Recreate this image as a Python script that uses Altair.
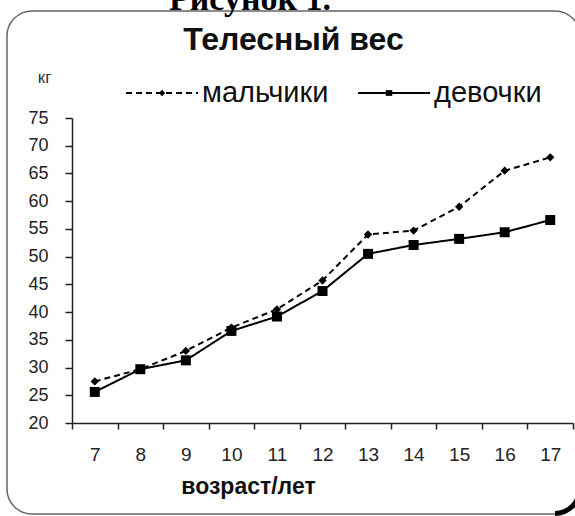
import altair as alt
import pandas as pd

# ---- data ----
ages = [7, 8, 9, 10, 11, 12, 13, 14, 15, 16, 17]
boys = [27.5, 29.7, 33.0, 37.2, 40.5, 45.7, 54.0, 54.7, 59.0, 65.5, 67.9]
girls = [25.6, 29.7, 31.3, 36.6, 39.2, 43.8, 50.5, 52.1, 53.2, 54.4, 56.6]
series = ["мальчики", "девочки"]
y_ticks = [20, 25, 30, 35, 40, 45, 50, 55, 60, 65, 70, 75]
title_text = "Телесный вес"
caption_text = "Рисунок 1."
x_title = "возраст/лет"
y_title = "кг"

rows = []
for a, b, g in zip(ages, boys, girls):
    rows.append({"age": a, "weight": b, "series": series[0]})
    rows.append({"age": a, "weight": g, "series": series[1]})
df = pd.DataFrame(rows)

FONT = "Liberation Sans"

# legend marker symbols (drawn at the centre of a wide legend cell)
boy_sym = "M0,-0.09L0.09,0L0,0.09L-0.09,0Z"
girl_sym = "M-0.09,-0.08H0.09V0.08H-0.09Z"

common_legend = dict(
    title=None, orient="none", legendX=53, legendY=-62, direction="horizontal",
    labelFont=FONT, labelFontSize=29, symbolSize=5184, symbolStrokeWidth=2,
    labelOffset=3,
)
line_legend = alt.Legend(
    labelColor="#111", symbolType="stroke", symbolStrokeColor="black",
    columnPadding=25, **common_legend,
)
marker_legend = alt.Legend(
    labelExpr="''", symbolFillColor="black", symbolStrokeColor="black",
    symbolOpacity=1, columnPadding=150, **common_legend,
)

x_enc = alt.X(
    "age:O",
    scale=alt.Scale(type="band", paddingInner=0, paddingOuter=0),
    axis=alt.Axis(
        title=x_title, tickBand="extent", labelAngle=0, labelFont=FONT,
        labelFontSize=19, labelColor="#222", labelPadding=16, tickSize=6,
        tickColor="#222", domainColor="#222", domainWidth=1.5, tickWidth=1.5,
        titleFont=FONT, titleFontSize=23, titleFontWeight="bold", titleColor="#111",
        titleX=176, titleY=70, titleAlign="center", titleBaseline="alphabetic",
    ),
)
y_enc = alt.Y(
    "weight:Q",
    scale=alt.Scale(domain=[20, 75], nice=False, zero=False),
    axis=alt.Axis(
        values=y_ticks, grid=False, labelFont=FONT, labelFontSize=18,
        labelColor="#222", labelPadding=17, tickSize=7, tickColor="#222",
        domainColor="#222", domainWidth=1.5, tickWidth=1.5,
        title=y_title, titleAngle=0, titleX=-28, titleY=-41, titleAlign="center",
        titleBaseline="middle", titleFont=FONT, titleFontSize=17,
        titleFontWeight="normal", titleColor="#333",
    ),
)

cap_df = pd.DataFrame({"t": [caption_text]})
title_df = pd.DataFrame({"t": [title_text]})

shadow = alt.Chart(cap_df).mark_arc(
    theta=1.5708, theta2=3.1416, innerRadius=22, outerRadius=27, color="black"
).encode(x=alt.value(483), y=alt.value(371))

border = alt.Chart(cap_df).mark_rect(
    fill="transparent", stroke="#666", strokeWidth=1.5, cornerRadius=25
).encode(x=alt.value(-65), x2=alt.value(508), y=alt.value(-107), y2=alt.value(396))

caption = alt.Chart(cap_df).mark_text(
    font="Liberation Serif", fontWeight="bold", fontSize=34, align="center",
    baseline="alphabetic", color="black"
).encode(x=alt.value(178), y=alt.value(-108), text="t:N")

title = alt.Chart(title_df).mark_text(
    font=FONT, fontWeight="bold", fontSize=32, align="center",
    baseline="alphabetic", color="#111"
).encode(x=alt.value(221.5), y=alt.value(-68), text="t:N")

lines = alt.Chart(df).mark_line(color="black", strokeWidth=2).encode(
    x=x_enc, y=y_enc,
    strokeDash=alt.StrokeDash("series:N", scale=alt.Scale(domain=series, range=[[6, 4], [1, 0]]), legend=line_legend),
)

legend_src = alt.Chart(df).mark_point(
    filled=True, color="black", opacity=0
).encode(
    x=x_enc, y=y_enc,
    shape=alt.Shape("series:N", sort=series, scale=alt.Scale(range=[boy_sym, girl_sym]), legend=marker_legend),
)

boy_pts = alt.Chart(df).transform_filter(alt.datum.series == series[0]).mark_point(
    shape="diamond", filled=True, color="black", size=70, opacity=1
).encode(x=x_enc, y=y_enc)

girl_pts = alt.Chart(df).transform_filter(alt.datum.series == series[1]).mark_point(
    shape="square", filled=True, color="black", size=100, opacity=1
).encode(x=x_enc, y=y_enc)

chart = alt.layer(border, shadow, caption, title, lines, legend_src, boy_pts, girl_pts).properties(
    width=501, height=305,
    autosize="none",
    padding={"left": 72, "top": 118, "right": 2, "bottom": 93},
    background="white",
).configure_view(stroke=None)

chart.save("out.html", embed_options={"renderer": "svg", "actions": False})
